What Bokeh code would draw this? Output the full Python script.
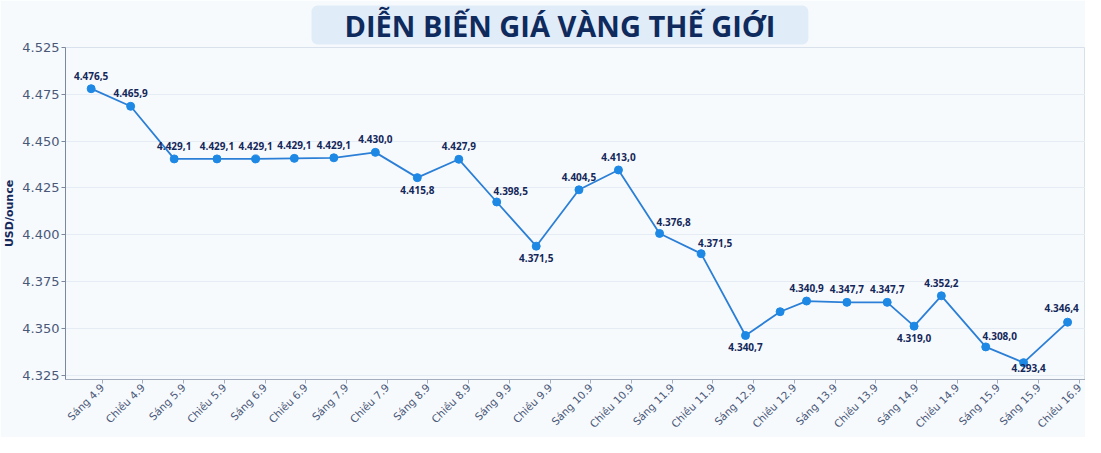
from bokeh.plotting import figure
from bokeh.models import ColumnDataSource, FixedTicker, Range1d
from bokeh.core.properties import value
from bokeh.embed import file_html
from bokeh.resources import INLINE
from math import pi

# ---- data ----
tick_labels = ["Sáng 4.9", "Chiều 4.9", "Sáng 5.9", "Chiều 5.9", "Sáng 6.9", "Chiều 6.9",
               "Sáng 7.9", "Chiều 7.9", "Sáng 8.9", "Chiều 8.9", "Sáng 9.9", "Chiều 9.9",
               "Sáng 10.9", "Chiều 10.9", "Sáng 11.9", "Chiều 11.9", "Sáng 12.9", "Chiều 12.9",
               "Sáng 13.9", "Chiều 13.9", "Sáng 14.9", "Chiều 14.9", "Sáng 15.9", "Sáng 15.9",
               "Chiều 16.9"]

# point positions along the x axis (in tick units, as drawn in the reference)
point_x = [-0.27, 0.70, 1.77, 2.82, 3.77, 4.72, 5.69, 6.71, 7.74, 8.76, 9.69, 10.66, 11.71,
           12.68, 13.69, 14.71, 15.80, 16.65, 17.30, 18.29, 19.28, 19.94, 20.61, 21.70,
           22.63, 23.71]
# plotted price levels (as drawn against the gridlines)
price = [4.4780, 4.4686, 4.4405, 4.4405, 4.4405, 4.4408, 4.4411, 4.4440, 4.4305, 4.4403,
         4.4175, 4.3939, 4.4240, 4.4346, 4.4007, 4.3899, 4.3462, 4.3589, 4.3646, 4.3639,
         4.3639, 4.3512, 4.3674, 4.3401, 4.3317, 4.3533]
# printed value labels
price_labels = ["4.476,5", "4.465,9", "4.429,1", "4.429,1", "4.429,1", "4.429,1", "4.429,1",
                "4.430,0", "4.415,8", "4.427,9", "4.398,5", "4.371,5", "4.404,5", "4.413,0",
                "4.376,8", "4.371,5", "4.340,7", "", "4.340,9", "4.347,7", "4.347,7",
                "4.319,0", "4.352,2", "4.308,0", "4.293,4", "4.346,4"]
# label placement: a = above, b = below, r = above-right, s = just below-right, l = above-left
label_place = ["a", "a", "a", "a", "a", "a", "a", "a", "b", "a", "r", "b", "a", "a",
               "r", "r", "b", "a", "a", "a", "a", "b", "a", "r", "s", "l"]

y_ticks = [4.325, 4.35, 4.375, 4.4, 4.425, 4.45, 4.475, 4.5]
y_tick_labels = ["4.325", "4.350", "4.375", "4.400", "4.425", "4.450", "4.475", "4.525"]

title_text = "DIỄN BIẾN GIÁ VÀNG THẾ GIỚI"
y_label = "USD/ounce"

# ---- styling ----
NAVY = "#14275a"
LINE = "#2b7fd6"
DOT = "#1e88e5"
TICK = "#4a5878"
BG = "#f7fafd"

offsets = {"a": (0, -13), "b": (0, 12), "r": (14, -11), "s": (5, 5), "l": (-6, -14)}
dx = [offsets[m][0] for m in label_place]
dy = [offsets[m][1] for m in label_place]

src = ColumnDataSource(dict(x=point_x, y=price, lab=price_labels, dx=dx, dy=dy))

p = figure(width=1085, height=437, output_backend="svg", toolbar_location=None,
           x_range=Range1d(-0.9, 24.15), y_range=Range1d(4.3227, 4.5),
           min_border_left=0, min_border_right=0, min_border_top=0, min_border_bottom=0)

p.background_fill_color = BG
p.border_fill_color = BG
p.outline_line_color = "#d9e1ec"
p.outline_line_width = 1

# title
p.title.text = title_text
p.title.align = "left"
p.title.offset = 246
p.title.text_font = "Open Sans"
p.title.text_font_style = "bold"
p.title.text_font_size = "29px"
p.title.text_color = "#0f2a5c"
p.title.background_fill_color = "#e1ecf9"
p.title.border_radius = 6
p.title.padding = (33, 33, 0, 0)
p.title.standoff = 6

# grid
p.xgrid.visible = False
p.ygrid.grid_line_color = "#e6ecf4"
p.ygrid.grid_line_width = 1

# y axis
p.yaxis.ticker = FixedTicker(ticks=y_ticks)
p.yaxis.major_label_overrides = {t: l for t, l in zip(y_ticks, y_tick_labels)}
p.yaxis.axis_label = y_label
p.yaxis.axis_label_text_font = "DejaVu Sans"
p.yaxis.axis_label_text_font_style = "bold"
p.yaxis.axis_label_text_font_size = "11px"
p.yaxis.axis_label_text_color = NAVY
p.yaxis.axis_label_standoff = 3
p.yaxis.major_label_text_font = "DejaVu Sans"
p.yaxis.major_label_text_font_size = "13px"
p.yaxis.major_label_text_color = TICK
p.yaxis.axis_line_color = "#7d889c"
p.yaxis.major_tick_line_color = "#7d889c"
p.yaxis.major_tick_out = 4
p.yaxis.major_tick_in = 0
p.yaxis.minor_tick_line_color = None
p.yaxis.major_label_standoff = 2

# x axis
p.xaxis.ticker = FixedTicker(ticks=list(range(len(tick_labels))))
p.xaxis.major_label_overrides = {i: l for i, l in enumerate(tick_labels)}
p.xaxis.major_label_orientation = pi / 4
p.xaxis.major_label_text_font = "DejaVu Sans"
p.xaxis.major_label_text_font_size = "10.5px"
p.xaxis.major_label_text_color = TICK
p.xaxis.axis_line_color = "#a3adbd"
p.xaxis.major_tick_line_color = "#a3adbd"
p.xaxis.major_tick_out = 4
p.xaxis.major_tick_in = 0
p.xaxis.minor_tick_line_color = None
p.xaxis.major_label_standoff = 2

# series
p.line("x", "y", source=src, line_color=LINE, line_width=1.8)
p.scatter("x", "y", source=src, size=8, fill_color=DOT, line_color=DOT)
p.text("x", "y", text="lab", source=src, x_offset="dx", y_offset="dy",
       text_font=value("Open Sans"), text_font_style="bold", text_font_size="10px",
       text_color=NAVY, text_align="center", text_baseline="middle")

open("out.html", "w").write(file_html(p, INLINE))
